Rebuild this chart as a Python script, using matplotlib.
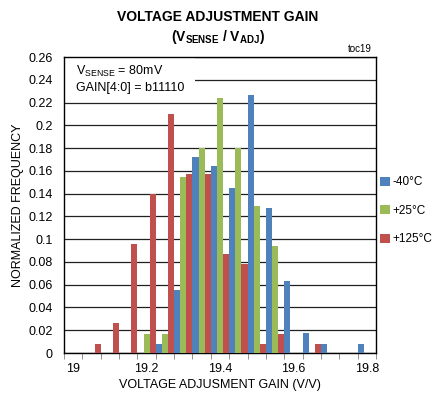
import numpy as np
import matplotlib
matplotlib.use('Agg')
import matplotlib.pyplot as plt
from matplotlib.patches import Rectangle

plt.rcParams['font.family'] = ['Liberation Sans Narrow', 'Liberation Sans', 'DejaVu Sans']

# category centres (V/V)
gain = [19.00, 19.05, 19.10, 19.15, 19.20, 19.25, 19.30, 19.35, 19.40,
        19.45, 19.50, 19.55, 19.60, 19.65, 19.70, 19.75, 19.80]
m40 = [0, 0, 0, 0, 0, 0.008, 0.055, 0.172, 0.164, 0.145, 0.227, 0.127,
       0.063, 0.018, 0.008, 0, 0.008]
p25 = [0, 0, 0, 0, 0.017, 0.017, 0.155, 0.180, 0.224, 0.180, 0.129, 0.094,
       0, 0, 0, 0, 0]
p125 = [0, 0.008, 0.026, 0.096, 0.140, 0.210, 0.157, 0.157, 0.087, 0.078,
        0.008, 0.017, 0, 0.008, 0, 0, 0]
labels = ['-40°C', '+25°C', '+125°C']
colors = ['#4F81BD', '#9BBB59', '#C0504D']
xticks = [19, 19.2, 19.4, 19.6, 19.8]
xticklabels = ['19', '19.2', '19.4', '19.6', '19.8']
yticks = [0, 0.02, 0.04, 0.06, 0.08, 0.1, 0.12, 0.14, 0.16, 0.18, 0.2,
          0.22, 0.24, 0.26]

fig = plt.figure(figsize=(4.37, 4.0), dpi=100)
ax = fig.add_axes([64/437, 47/400, 312/437, 296/400])

step = 0.05
w = step / 3
x = np.array(gain)
for k, (vals, c, lab) in enumerate(zip([m40, p25, p125], colors, labels)):
    ax.bar(x + (k - 1) * w, vals, width=w, color=c, label=lab, zorder=3)

ax.set_xlim(gain[0] - step/2, gain[-1] + step/2)
ax.set_ylim(0, 0.26)
ax.set_yticks(yticks)
ax.set_yticklabels(['0'] + [('%g' % v) for v in yticks[1:]], fontsize=9)
ax.set_xticks(xticks)
ax.set_xticklabels(xticklabels, fontsize=9)
ax.tick_params(axis='x', which='major', length=0, pad=7)
ax.set_xticks(np.arange(gain[0] - step/2, gain[-1] + step, step), minor=True)
ax.tick_params(axis='x', which='minor', length=4, color='#808080', direction='out')
ax.tick_params(axis='y', length=0, pad=8)
ax.yaxis.grid(True, color='#202020', linewidth=0.9, zorder=1)
for s in ax.spines.values():
    s.set_color('black')
    s.set_linewidth(1.0)

# white box behind note
ax.add_patch(Rectangle((0, 0.86), 0.42, 0.14, transform=ax.transAxes,
                       facecolor='white', edgecolor='none', zorder=2))
ax.text(0.04, 0.95, r'V$_{\mathregular{SENSE}}$ = 80mV', transform=ax.transAxes,
        fontsize=9, va='center', zorder=4)
ax.text(0.04, 0.895, 'GAIN[4:0] = b11110', transform=ax.transAxes,
        fontsize=9, va='center', zorder=4)

ax.set_xlabel('VOLTAGE ADJUSMENT GAIN (V/V)', fontsize=9, labelpad=3)
ax.set_ylabel('NORMALIZED FREQUENCY', fontsize=9, labelpad=3)

fig.text(218/437, 1 - 17/400, 'VOLTAGE ADJUSTMENT GAIN', ha='center',
         va='center', fontsize=10, fontweight='bold')
fig.text(218/437, 1 - 37/400,
         r'(V$_{\mathregular{SENSE}}$ / V$_{\mathregular{ADJ}}$)', ha='center',
         va='center', fontsize=10, fontweight='bold')
fig.text(372/437, 1 - 49/400, 'toc19', ha='right', va='center', fontsize=7)

leg = ax.legend(loc='center left', bbox_to_anchor=(1.0, 0.48), frameon=False,
                fontsize=8.5, handlelength=0.8, handleheight=0.8,
                labelspacing=1.4, handletextpad=0.25, borderaxespad=0.15,
                borderpad=0.2)

fig.savefig('out.png', dpi=100)
